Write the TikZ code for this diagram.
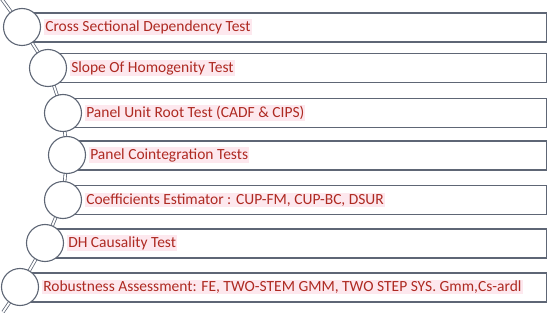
\documentclass[tikz,border=0pt]{standalone}
\usepackage{fontspec}
\setmainfont{Carlito}
\usetikzlibrary{positioning, calc, backgrounds}
\definecolor{barline}{HTML}{5E6675}
\definecolor{stepred}{HTML}{AE2A22}
\definecolor{textpink}{HTML}{FDE8EE}

\tikzset{
  stepbar/.style={draw=barline, line width=1.3pt, fill=white, minimum height=29pt, inner sep=0pt, anchor=west},
  stepdot/.style={circle, draw=barline, line width=1.1pt, fill=white, minimum size=37pt, inner sep=0pt},
  steptext/.style={text=stepred, fill=textpink, inner sep=1pt, anchor=west, font=\fontsize{15.5}{17}\selectfont},
  spine/.style={draw=barline, double=white, double distance=1.8pt, line width=0.8pt}
}

\begin{document}
\begin{tikzpicture}[x=1pt, y=-1pt]
  \useasboundingbox (0,0) rectangle (550,313);

  % bars
  \node[stepbar, minimum width=524pt] (bar1) at (22,27.5) {};
  \node[stepbar, minimum width=498pt] (bar2) at (48,68) {};
  \node[stepbar, minimum width=483pt] (bar3) at (63,113) {};
  \node[stepbar, minimum width=479pt] (bar4) at (67,155.5) {};
  \node[stepbar, minimum width=483pt] (bar5) at (63,200) {};
  \node[stepbar, minimum width=501pt] (bar6) at (45,243.5) {};
  \node[stepbar, minimum width=526pt] (bar7) at (20,287.5) {};

  % circles on the curve
  \node[stepdot] (circ1) at (22,27) {};
  \node[stepdot] (circ2) at (48,68) {};
  \node[stepdot] (circ3) at (63,113) {};
  \node[stepdot] (circ4) at (67,155) {};
  \node[stepdot] (circ5) at (63,200) {};
  \node[stepdot] (circ6) at (45,243) {};
  \node[stepdot] (circ7) at (20,287) {};

  % labels
  \node[steptext] (lbl1) at ([xshift=3pt]circ1.east) {Cross Sectional Dependency Test};
  \node[steptext] (lbl2) at ([xshift=3pt]circ2.east) {Slope Of Homogenity Test};
  \node[steptext] (lbl3) at ([xshift=3pt]circ3.east) {Panel Unit Root Test (CADF \& CIPS)};
  \node[steptext] (lbl4) at ([xshift=3pt]circ4.east) {Panel Cointegration Tests};
  \node[steptext] (lbl5) at ([xshift=3pt]circ5.east) {Coefficients Estimator : CUP-FM, CUP-BC, DSUR};
  \node[steptext] (lbl6) at ([xshift=3pt]circ6.east) {DH Causality Test};
  \node[steptext] (lbl7) at ([xshift=3pt]circ7.east) {Robustness Assessment: FE, TWO-STEM GMM, TWO STEP SYS. Gmm,Cs-ardl};

  \coordinate (top) at (1,-2);
  \coordinate (bottom) at (3,312);
  \begin{scope}[on background layer]
    \draw[spine] (top) -- (circ1.center) -- (circ2.center) -- (circ3.center) -- (circ4.center)
      -- (circ5.center) -- (circ6.center) -- (circ7.center) -- (bottom);
  \end{scope}
\end{tikzpicture}
\end{document}
